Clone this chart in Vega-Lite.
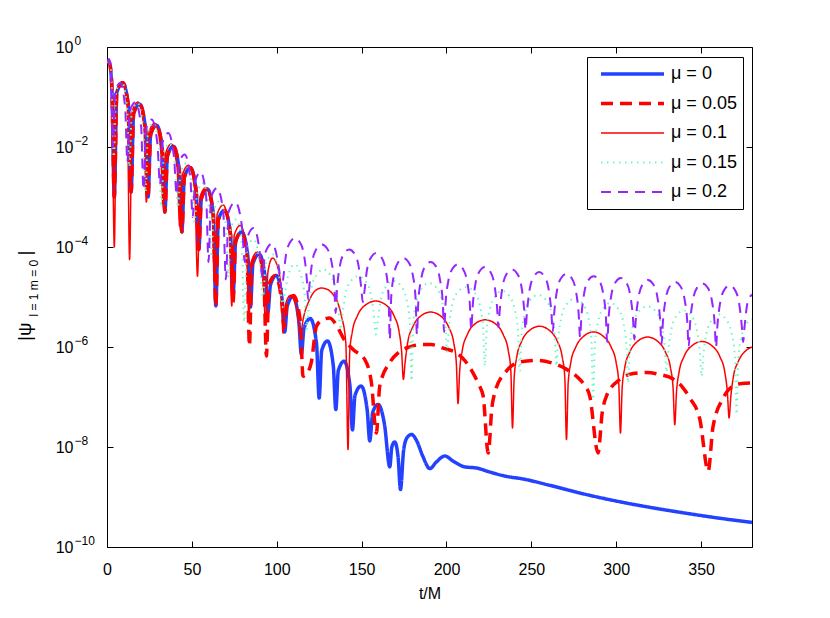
{
  "$schema": "https://vega.github.io/schema/vega-lite/v6.json",
  "width": 645,
  "height": 500,
  "autosize": {"type": "none"},
  "padding": {"left": 107, "top": 47, "right": 78, "bottom": 71},
  "background": "white",
  "data": {"values": [
    {"t":0,"v":0.48,"s":"μ = 0"},{"t":1.3,"v":0.5,"s":"μ = 0"},{"t":2.8,"v":0.178,"s":"μ = 0"},{"t":4.3,"v":1e-3,"s":"μ = 0"},
    {"t":5.8,"v":0.124,"s":"μ = 0"},{"t":9.25,"v":0.192,"s":"μ = 0"},{"t":12.7,"v":0.062,"s":"μ = 0"},{"t":14.2,"v":1.26e-3,"s":"μ = 0"},
    {"t":15.7,"v":0.047,"s":"μ = 0"},{"t":19.2,"v":0.072,"s":"μ = 0"},{"t":22.7,"v":0.023,"s":"μ = 0"},{"t":24.2,"v":1e-3,"s":"μ = 0"},
    {"t":25.7,"v":0.0176,"s":"μ = 0"},{"t":29.15,"v":0.0273,"s":"μ = 0"},{"t":32.6,"v":8.8e-3,"s":"μ = 0"},{"t":34.1,"v":5e-4,"s":"μ = 0"},
    {"t":35.6,"v":6.6e-3,"s":"μ = 0"},{"t":39.1,"v":0.0103,"s":"μ = 0"},{"t":42.6,"v":3.3e-3,"s":"μ = 0"},{"t":44.1,"v":2e-4,"s":"μ = 0"},
    {"t":45.6,"v":2.5e-3,"s":"μ = 0"},{"t":49.1,"v":3.86e-3,"s":"μ = 0"},{"t":52.6,"v":1.25e-3,"s":"μ = 0"},{"t":54.1,"v":8.9e-5,"s":"μ = 0"},
    {"t":55.6,"v":9.3e-4,"s":"μ = 0"},{"t":59.1,"v":1.45e-3,"s":"μ = 0"},{"t":62.6,"v":4.7e-4,"s":"μ = 0"},{"t":64.1,"v":6.6e-6,"s":"μ = 0"},
    {"t":65.6,"v":3.5e-4,"s":"μ = 0"},{"t":69.2,"v":5.4e-4,"s":"μ = 0"},{"t":72.8,"v":1.74e-4,"s":"μ = 0"},{"t":74.3,"v":1.12e-5,"s":"μ = 0"},
    {"t":75.8,"v":1.29e-4,"s":"μ = 0"},{"t":79.4,"v":2e-4,"s":"μ = 0"},{"t":83,"v":6.5e-5,"s":"μ = 0"},{"t":84.5,"v":6.3e-6,"s":"μ = 0"},
    {"t":86,"v":4.7e-5,"s":"μ = 0"},{"t":89.65,"v":7.2e-5,"s":"μ = 0"},{"t":93.3,"v":2.3e-5,"s":"μ = 0"},{"t":94.8,"v":5e-6,"s":"μ = 0"},
    {"t":96.3,"v":1.74e-5,"s":"μ = 0"},{"t":99.75,"v":2.7e-5,"s":"μ = 0"},{"t":103.2,"v":8.7e-6,"s":"μ = 0"},{"t":104.7,"v":2e-6,"s":"μ = 0"},
    {"t":106.2,"v":6.6e-6,"s":"μ = 0"},{"t":109.6,"v":1.02e-5,"s":"μ = 0"},{"t":113,"v":3.3e-6,"s":"μ = 0"},{"t":114.5,"v":7.1e-7,"s":"μ = 0"},
    {"t":116.1,"v":2.4e-6,"s":"μ = 0"},{"t":119.75,"v":3.7e-6,"s":"μ = 0"},{"t":123.4,"v":1.2e-6,"s":"μ = 0"},{"t":125,"v":9.5e-8,"s":"μ = 0"},
    {"t":126.5,"v":8.5e-7,"s":"μ = 0"},{"t":129.9,"v":1.32e-6,"s":"μ = 0"},{"t":133.3,"v":4.3e-7,"s":"μ = 0"},{"t":134.8,"v":5.6e-8,"s":"μ = 0"},
    {"t":136.3,"v":3.4e-7,"s":"μ = 0"},{"t":139.7,"v":5.2e-7,"s":"μ = 0"},{"t":143.1,"v":1.7e-7,"s":"μ = 0"},{"t":144.6,"v":2.2e-8,"s":"μ = 0"},
    {"t":146.1,"v":1.07e-7,"s":"μ = 0"},{"t":149.7,"v":1.66e-7,"s":"μ = 0"},{"t":153.3,"v":5.4e-8,"s":"μ = 0"},{"t":154.8,"v":1.32e-8,"s":"μ = 0"},
    {"t":156.6,"v":5e-8,"s":"μ = 0"},{"t":159.7,"v":7.1e-8,"s":"μ = 0"},{"t":163.5,"v":2.8e-8,"s":"μ = 0"},{"t":166.6,"v":4e-9,"s":"μ = 0"},
    {"t":167.8,"v":1e-8,"s":"μ = 0"},{"t":169.5,"v":1.26e-8,"s":"μ = 0"},{"t":171.5,"v":6.3e-9,"s":"μ = 0"},{"t":172.9,"v":1.41e-9,"s":"μ = 0"},
    {"t":174.8,"v":8.9e-9,"s":"μ = 0"},{"t":177,"v":1.58e-8,"s":"μ = 0"},{"t":179.4,"v":1.78e-8,"s":"μ = 0"},{"t":182.5,"v":1.32e-8,"s":"μ = 0"},
    {"t":186,"v":6.6e-9,"s":"μ = 0"},{"t":190.2,"v":3.7e-9,"s":"μ = 0"},{"t":194,"v":5e-9,"s":"μ = 0"},{"t":199,"v":6.6e-9,"s":"μ = 0"},
    {"t":204,"v":5.2e-9,"s":"μ = 0"},{"t":210.8,"v":4e-9,"s":"μ = 0"},{"t":217.7,"v":3.8e-9,"s":"μ = 0"},{"t":225.5,"v":3.16e-9,"s":"μ = 0"},
    {"t":235,"v":2.6e-9,"s":"μ = 0"},{"t":245,"v":2.3e-9,"s":"μ = 0"},{"t":260,"v":1.74e-9,"s":"μ = 0"},{"t":280,"v":1.17e-9,"s":"μ = 0"},
    {"t":300,"v":8.3e-10,"s":"μ = 0"},{"t":320,"v":6.2e-10,"s":"μ = 0"},{"t":340,"v":4.8e-10,"s":"μ = 0"},{"t":360,"v":3.8e-10,"s":"μ = 0"},{"t":380,"v":3.1e-10,"s":"μ = 0"},

    {"t":0,"v":0.48,"s":"μ = 0.05"},{"t":1.3,"v":0.5,"s":"μ = 0.05"},{"t":2.8,"v":0.178,"s":"μ = 0.05"},{"t":4.3,"v":1e-3,"s":"μ = 0.05"},
    {"t":5.8,"v":0.124,"s":"μ = 0.05"},{"t":9.25,"v":0.192,"s":"μ = 0.05"},{"t":12.7,"v":0.062,"s":"μ = 0.05"},{"t":14.2,"v":1.26e-3,"s":"μ = 0.05"},
    {"t":15.7,"v":0.047,"s":"μ = 0.05"},{"t":19.2,"v":0.072,"s":"μ = 0.05"},{"t":22.7,"v":0.023,"s":"μ = 0.05"},{"t":24.2,"v":1e-3,"s":"μ = 0.05"},
    {"t":25.7,"v":0.0176,"s":"μ = 0.05"},{"t":29.15,"v":0.0273,"s":"μ = 0.05"},{"t":32.6,"v":8.8e-3,"s":"μ = 0.05"},{"t":34.1,"v":5e-4,"s":"μ = 0.05"},
    {"t":35.6,"v":6.6e-3,"s":"μ = 0.05"},{"t":39.1,"v":0.0103,"s":"μ = 0.05"},{"t":42.6,"v":3.3e-3,"s":"μ = 0.05"},{"t":44.1,"v":2e-4,"s":"μ = 0.05"},
    {"t":45.6,"v":2.5e-3,"s":"μ = 0.05"},{"t":49.1,"v":3.86e-3,"s":"μ = 0.05"},{"t":52.6,"v":1.25e-3,"s":"μ = 0.05"},{"t":54.1,"v":8.9e-5,"s":"μ = 0.05"},
    {"t":55.6,"v":9.3e-4,"s":"μ = 0.05"},{"t":59.1,"v":1.45e-3,"s":"μ = 0.05"},{"t":62.6,"v":4.7e-4,"s":"μ = 0.05"},{"t":64.1,"v":6.6e-6,"s":"μ = 0.05"},
    {"t":65.6,"v":3.5e-4,"s":"μ = 0.05"},{"t":69.2,"v":5.4e-4,"s":"μ = 0.05"},{"t":72.8,"v":1.74e-4,"s":"μ = 0.05"},{"t":74.3,"v":7.9e-6,"s":"μ = 0.05"},
    {"t":75.8,"v":1.29e-4,"s":"μ = 0.05"},{"t":79.2,"v":2e-4,"s":"μ = 0.05"},{"t":82.5,"v":6.5e-5,"s":"μ = 0.05"},{"t":83.9,"v":1.05e-6,"s":"μ = 0.05"},
    {"t":85.4,"v":4.7e-5,"s":"μ = 0.05"},{"t":88.9,"v":7.2e-5,"s":"μ = 0.05"},{"t":92.4,"v":2.3e-5,"s":"μ = 0.05"},{"t":93.9,"v":6.6e-7,"s":"μ = 0.05"},
    {"t":95.4,"v":1.74e-5,"s":"μ = 0.05"},{"t":99.1,"v":2.7e-5,"s":"μ = 0.05"},{"t":102.8,"v":8.7e-6,"s":"μ = 0.05"},{"t":104.3,"v":2.5e-6,"s":"μ = 0.05"},
    {"t":106,"v":7.1e-6,"s":"μ = 0.05"},{"t":109.9,"v":1.07e-5,"s":"μ = 0.05"},{"t":113.8,"v":3.5e-6,"s":"μ = 0.05"},{"t":115.5,"v":2.6e-7,"s":"μ = 0.05"},
    {"t":118.5,"v":3.2e-7,"s":"μ = 0.05"},{"t":120.4,"v":5e-7,"s":"μ = 0.05"},{"t":123.4,"v":2.6e-6,"s":"μ = 0.05"},{"t":127,"v":3.5e-6,"s":"μ = 0.05"},
    {"t":131.2,"v":3.8e-6,"s":"μ = 0.05"},{"t":135,"v":2.8e-6,"s":"μ = 0.05"},{"t":139.5,"v":1.45e-6,"s":"μ = 0.05"},{"t":145,"v":8.9e-7,"s":"μ = 0.05"},
    {"t":151.9,"v":5.6e-7,"s":"μ = 0.05"},{"t":155.8,"v":1.9e-7,"s":"μ = 0.05"},{"t":158.7,"v":1.9e-8,"s":"μ = 0.05"},
    {"t":160.7,"v":1.66e-7,"s":"μ = 0.05"},{"t":166.6,"v":4.9e-7,"s":"μ = 0.05"},{"t":172,"v":7.9e-7,"s":"μ = 0.05"},{"t":179,"v":1.02e-6,"s":"μ = 0.05"},
    {"t":185,"v":1.12e-6,"s":"μ = 0.05"},{"t":191,"v":1.12e-6,"s":"μ = 0.05"},{"t":198,"v":9.5e-7,"s":"μ = 0.05"},{"t":206.4,"v":7.4e-7,"s":"μ = 0.05"},
    {"t":211.5,"v":5e-7,"s":"μ = 0.05"},{"t":215.7,"v":3e-7,"s":"μ = 0.05"},{"t":219,"v":1.78e-7,"s":"μ = 0.05"},{"t":221.6,"v":1.05e-7,"s":"μ = 0.05"},{"t":224.6,"v":7.6e-9,"s":"μ = 0.05"},
    {"t":226.8,"v":6.3e-8,"s":"μ = 0.05"},{"t":228.5,"v":1.23e-7,"s":"μ = 0.05"},{"t":235.3,"v":3.3e-7,"s":"μ = 0.05"},{"t":243.2,"v":5e-7,"s":"μ = 0.05"},
    {"t":253,"v":5.4e-7,"s":"μ = 0.05"},{"t":262.8,"v":4.7e-7,"s":"μ = 0.05"},{"t":270,"v":3.7e-7,"s":"μ = 0.05"},{"t":276.6,"v":2.6e-7,"s":"μ = 0.05"},
    {"t":281,"v":1.78e-7,"s":"μ = 0.05"},{"t":284.4,"v":1.05e-7,"s":"μ = 0.05"},{"t":289.3,"v":7.6e-9,"s":"μ = 0.05"},
    {"t":291.8,"v":5e-8,"s":"μ = 0.05"},{"t":294.3,"v":1.05e-7,"s":"μ = 0.05"},{"t":302.1,"v":2.24e-7,"s":"μ = 0.05"},{"t":310,"v":2.95e-7,"s":"μ = 0.05"},
    {"t":317.8,"v":3.1e-7,"s":"μ = 0.05"},{"t":326,"v":2.8e-7,"s":"μ = 0.05"},{"t":333.5,"v":2.3e-7,"s":"μ = 0.05"},{"t":339,"v":1.58e-7,"s":"μ = 0.05"},
    {"t":343.4,"v":9.5e-8,"s":"μ = 0.05"},{"t":349.3,"v":3.55e-8,"s":"μ = 0.05"},{"t":354.2,"v":3.3e-9,"s":"μ = 0.05"},
    {"t":357,"v":2.5e-8,"s":"μ = 0.05"},{"t":363,"v":9.5e-8,"s":"μ = 0.05"},{"t":368.9,"v":1.66e-7,"s":"μ = 0.05"},{"t":374,"v":1.86e-7,"s":"μ = 0.05"},{"t":380,"v":1.9e-7,"s":"μ = 0.05"},

    {"t":0,"v":0.48,"s":"μ = 0.1"},{"t":1.3,"v":0.5,"s":"μ = 0.1"},{"t":2.8,"v":0.178,"s":"μ = 0.1"},{"t":4.3,"v":1e-4,"s":"μ = 0.1"},
    {"t":5.65,"v":0.13,"s":"μ = 0.1"},{"t":8.8,"v":0.201,"s":"μ = 0.1"},{"t":11.95,"v":0.065,"s":"μ = 0.1"},{"t":13.3,"v":5.6e-5,"s":"μ = 0.1"},
    {"t":14.8,"v":0.051,"s":"μ = 0.1"},{"t":18.25,"v":0.079,"s":"μ = 0.1"},{"t":21.7,"v":0.0257,"s":"μ = 0.1"},{"t":23.2,"v":7.9e-4,"s":"μ = 0.1"},
    {"t":24.7,"v":0.0195,"s":"μ = 0.1"},{"t":28.1,"v":0.03,"s":"μ = 0.1"},{"t":31.5,"v":9.8e-3,"s":"μ = 0.1"},{"t":33,"v":6.6e-4,"s":"μ = 0.1"},
    {"t":34.5,"v":7.4e-3,"s":"μ = 0.1"},{"t":37.9,"v":0.0115,"s":"μ = 0.1"},{"t":41.3,"v":3.7e-3,"s":"μ = 0.1"},{"t":42.8,"v":2.6e-4,"s":"μ = 0.1"},
    {"t":44.4,"v":2.75e-3,"s":"μ = 0.1"},{"t":48.05,"v":4.3e-3,"s":"μ = 0.1"},{"t":51.7,"v":1.38e-3,"s":"μ = 0.1"},{"t":53.3,"v":2.6e-5,"s":"μ = 0.1"},
    {"t":54.8,"v":1e-3,"s":"μ = 0.1"},{"t":58.35,"v":1.55e-3,"s":"μ = 0.1"},{"t":61.9,"v":5e-4,"s":"μ = 0.1"},{"t":63.4,"v":2e-5,"s":"μ = 0.1"},
    {"t":64.9,"v":4.5e-4,"s":"μ = 0.1"},{"t":68.45,"v":6.9e-4,"s":"μ = 0.1"},{"t":72,"v":2.24e-4,"s":"μ = 0.1"},{"t":73.5,"v":6.6e-6,"s":"μ = 0.1"},
    {"t":75,"v":1.74e-4,"s":"μ = 0.1"},{"t":78.55,"v":2.7e-4,"s":"μ = 0.1"},{"t":82.1,"v":8.7e-5,"s":"μ = 0.1"},{"t":83.6,"v":4e-6,"s":"μ = 0.1"},
    {"t":85.1,"v":5.1e-5,"s":"μ = 0.1"},{"t":88.5,"v":7.9e-5,"s":"μ = 0.1"},{"t":91.9,"v":2.57e-5,"s":"μ = 0.1"},{"t":93.4,"v":3.16e-6,"s":"μ = 0.1"},
    {"t":94.8,"v":3.16e-5,"s":"μ = 0.1"},{"t":97.5,"v":6e-5,"s":"μ = 0.1"},{"t":100.5,"v":4e-5,"s":"μ = 0.1"},{"t":102.6,"v":1.41e-5,"s":"μ = 0.1"},{"t":103.7,"v":1.9e-6,"s":"μ = 0.1"},
    {"t":105.2,"v":7.1e-6,"s":"μ = 0.1"},{"t":108,"v":1.07e-5,"s":"μ = 0.1"},{"t":111.5,"v":6.3e-6,"s":"μ = 0.1"},{"t":114,"v":1.78e-6,"s":"μ = 0.1"},
    {"t":115.5,"v":3.5e-6,"s":"μ = 0.1"},{"t":119.4,"v":8.9e-6,"s":"μ = 0.1"},{"t":122.5,"v":1.32e-5,"s":"μ = 0.1"},{"t":126.3,"v":1.51e-5,"s":"μ = 0.1"},
    {"t":130,"v":1.41e-5,"s":"μ = 0.1"},{"t":133.2,"v":1.12e-5,"s":"μ = 0.1"},{"t":136,"v":7.6e-6,"s":"μ = 0.1"},{"t":138.1,"v":4.2e-6,"s":"μ = 0.1"},
    {"t":140.7,"v":1.2e-6,"s":"μ = 0.1"},{"t":142,"v":8.9e-9,"s":"μ = 0.1"},
    {"t":143,"v":7.9e-7,"s":"μ = 0.1"},{"t":144.5,"v":2e-6,"s":"μ = 0.1"},{"t":147.5,"v":4.2e-6,"s":"μ = 0.1"},{"t":152,"v":6.8e-6,"s":"μ = 0.1"},
    {"t":158.3,"v":8.3e-6,"s":"μ = 0.1"},{"t":164.6,"v":6.8e-6,"s":"μ = 0.1"},{"t":169.1,"v":4.2e-6,"s":"μ = 0.1"},{"t":172.1,"v":2e-6,"s":"μ = 0.1"},
    {"t":173.6,"v":7.9e-7,"s":"μ = 0.1"},{"t":174.6,"v":2.24e-7,"s":"μ = 0.1"},
    {"t":175.6,"v":4.8e-7,"s":"μ = 0.1"},{"t":177.1,"v":1.2e-6,"s":"μ = 0.1"},{"t":180.1,"v":2.5e-6,"s":"μ = 0.1"},{"t":184.6,"v":4.1e-6,"s":"μ = 0.1"},
    {"t":190.7,"v":5e-6,"s":"μ = 0.1"},{"t":196.8,"v":4.1e-6,"s":"μ = 0.1"},{"t":201.3,"v":2.5e-6,"s":"μ = 0.1"},{"t":204.3,"v":1.2e-6,"s":"μ = 0.1"},
    {"t":205.8,"v":4.8e-7,"s":"μ = 0.1"},{"t":206.8,"v":7.4e-8,"s":"μ = 0.1"},
    {"t":207.8,"v":3.4e-7,"s":"μ = 0.1"},{"t":209.3,"v":8.5e-7,"s":"μ = 0.1"},{"t":212.3,"v":1.78e-6,"s":"μ = 0.1"},{"t":216.8,"v":2.9e-6,"s":"μ = 0.1"},
    {"t":222.85,"v":3.5e-6,"s":"μ = 0.1"},{"t":228.9,"v":2.9e-6,"s":"μ = 0.1"},{"t":233.4,"v":1.78e-6,"s":"μ = 0.1"},{"t":236.4,"v":8.5e-7,"s":"μ = 0.1"},
    {"t":237.9,"v":3.4e-7,"s":"μ = 0.1"},{"t":238.9,"v":2.4e-8,"s":"μ = 0.1"},
    {"t":239.9,"v":2.5e-7,"s":"μ = 0.1"},{"t":241.4,"v":6.3e-7,"s":"μ = 0.1"},{"t":244.4,"v":1.32e-6,"s":"μ = 0.1"},{"t":248.9,"v":2.14e-6,"s":"μ = 0.1"},
    {"t":254.8,"v":2.6e-6,"s":"μ = 0.1"},{"t":260.7,"v":2.14e-6,"s":"μ = 0.1"},{"t":265.2,"v":1.32e-6,"s":"μ = 0.1"},{"t":268.2,"v":6.3e-7,"s":"μ = 0.1"},
    {"t":269.7,"v":2.5e-7,"s":"μ = 0.1"},{"t":270.7,"v":1.41e-8,"s":"μ = 0.1"},
    {"t":271.7,"v":1.9e-7,"s":"μ = 0.1"},{"t":273.2,"v":4.8e-7,"s":"μ = 0.1"},{"t":276.2,"v":1e-6,"s":"μ = 0.1"},{"t":280.7,"v":1.62e-6,"s":"μ = 0.1"},
    {"t":286.6,"v":2e-6,"s":"μ = 0.1"},{"t":292.5,"v":1.62e-6,"s":"μ = 0.1"},{"t":297,"v":1e-6,"s":"μ = 0.1"},{"t":300,"v":4.8e-7,"s":"μ = 0.1"},
    {"t":301.5,"v":1.9e-7,"s":"μ = 0.1"},{"t":302.5,"v":1.9e-8,"s":"μ = 0.1"},
    {"t":303.5,"v":1.51e-7,"s":"μ = 0.1"},{"t":305,"v":3.8e-7,"s":"μ = 0.1"},{"t":308,"v":7.9e-7,"s":"μ = 0.1"},{"t":312.5,"v":1.29e-6,"s":"μ = 0.1"},
    {"t":318.5,"v":1.58e-6,"s":"μ = 0.1"},{"t":324.5,"v":1.29e-6,"s":"μ = 0.1"},{"t":329,"v":7.9e-7,"s":"μ = 0.1"},{"t":332,"v":3.8e-7,"s":"μ = 0.1"},
    {"t":333.5,"v":1.51e-7,"s":"μ = 0.1"},{"t":334.5,"v":2.8e-8,"s":"μ = 0.1"},
    {"t":335.5,"v":1.23e-7,"s":"μ = 0.1"},{"t":337,"v":3.1e-7,"s":"μ = 0.1"},{"t":340,"v":6.5e-7,"s":"μ = 0.1"},{"t":344.5,"v":1.05e-6,"s":"μ = 0.1"},
    {"t":350.5,"v":1.29e-6,"s":"μ = 0.1"},{"t":356.5,"v":1.05e-6,"s":"μ = 0.1"},{"t":361,"v":6.5e-7,"s":"μ = 0.1"},{"t":364,"v":3.1e-7,"s":"μ = 0.1"},
    {"t":365.5,"v":1.23e-7,"s":"μ = 0.1"},{"t":366.5,"v":3.8e-8,"s":"μ = 0.1"},
    {"t":367.5,"v":1e-7,"s":"μ = 0.1"},{"t":369,"v":2.5e-7,"s":"μ = 0.1"},{"t":372,"v":5.2e-7,"s":"μ = 0.1"},{"t":376.5,"v":8.5e-7,"s":"μ = 0.1"},{"t":380,"v":1e-6,"s":"μ = 0.1"},

    {"t":0,"v":0.49,"s":"μ = 0.15"},{"t":1.2,"v":0.537,"s":"μ = 0.15"},{"t":2.6,"v":0.251,"s":"μ = 0.15"},{"t":4,"v":6.3e-3,"s":"μ = 0.15"},
    {"t":5.4,"v":0.129,"s":"μ = 0.15"},{"t":8.6,"v":0.2,"s":"μ = 0.15"},{"t":11.8,"v":0.0646,"s":"μ = 0.15"},{"t":13.2,"v":4e-3,"s":"μ = 0.15"},
    {"t":14.6,"v":0.049,"s":"μ = 0.15"},{"t":17.95,"v":0.076,"s":"μ = 0.15"},{"t":21.3,"v":0.0245,"s":"μ = 0.15"},{"t":22.7,"v":1.26e-3,"s":"μ = 0.15"},
    {"t":24.1,"v":0.0195,"s":"μ = 0.15"},{"t":27.35,"v":0.03,"s":"μ = 0.15"},{"t":30.6,"v":9.8e-3,"s":"μ = 0.15"},{"t":32,"v":6.3e-4,"s":"μ = 0.15"},
    {"t":33.5,"v":7.8e-3,"s":"μ = 0.15"},{"t":36.9,"v":0.012,"s":"μ = 0.15"},{"t":40.3,"v":3.9e-3,"s":"μ = 0.15"},{"t":41.8,"v":6.3e-4,"s":"μ = 0.15"},
    {"t":43.3,"v":3e-3,"s":"μ = 0.15"},{"t":46.7,"v":4.7e-3,"s":"μ = 0.15"},{"t":50.1,"v":1.51e-3,"s":"μ = 0.15"},{"t":51.6,"v":3.16e-4,"s":"μ = 0.15"},
    {"t":53.1,"v":1.23e-3,"s":"μ = 0.15"},{"t":56.55,"v":1.9e-3,"s":"μ = 0.15"},{"t":60,"v":6.2e-4,"s":"μ = 0.15"},{"t":61.5,"v":6.3e-5,"s":"μ = 0.15"},
    {"t":63,"v":5.4e-4,"s":"μ = 0.15"},{"t":66.5,"v":8.3e-4,"s":"μ = 0.15"},{"t":70,"v":2.7e-4,"s":"μ = 0.15"},{"t":71.5,"v":2.5e-5,"s":"μ = 0.15"},
    {"t":72.9,"v":2.3e-4,"s":"μ = 0.15"},{"t":76.15,"v":3.55e-4,"s":"μ = 0.15"},{"t":79.4,"v":1.15e-4,"s":"μ = 0.15"},{"t":80.8,"v":3.16e-6,"s":"μ = 0.15"},
    {"t":82.5,"v":9.1e-5,"s":"μ = 0.15"},{"t":86.3,"v":1.41e-4,"s":"μ = 0.15"},{"t":90.1,"v":4.6e-5,"s":"μ = 0.15"},{"t":91.8,"v":1e-5,"s":"μ = 0.15"},
    {"t":93.6,"v":4.6e-5,"s":"μ = 0.15"},{"t":97.65,"v":7.1e-5,"s":"μ = 0.15"},{"t":101.7,"v":2.3e-5,"s":"μ = 0.15"},{"t":103.5,"v":6.3e-6,"s":"μ = 0.15"},
    {"t":104.5,"v":1e-5,"s":"μ = 0.15"},{"t":106.5,"v":2.5e-5,"s":"μ = 0.15"},{"t":110.5,"v":4.5e-5,"s":"μ = 0.15"},{"t":114.5,"v":2.5e-5,"s":"μ = 0.15"},
    {"t":116.5,"v":1e-5,"s":"μ = 0.15"},{"t":117.5,"v":2.24e-6,"s":"μ = 0.15"},
    {"t":118.5,"v":5.2e-6,"s":"μ = 0.15"},{"t":120.5,"v":1.55e-5,"s":"μ = 0.15"},{"t":123.5,"v":2.75e-5,"s":"μ = 0.15"},{"t":127.5,"v":3.55e-5,"s":"μ = 0.15"},
    {"t":131.5,"v":2.75e-5,"s":"μ = 0.15"},{"t":134.5,"v":1.55e-5,"s":"μ = 0.15"},{"t":136.5,"v":5.2e-6,"s":"μ = 0.15"},{"t":137.5,"v":2.24e-6,"s":"μ = 0.15"},
    {"t":138.5,"v":3.9e-6,"s":"μ = 0.15"},{"t":140.5,"v":1.15e-5,"s":"μ = 0.15"},{"t":143.5,"v":2.04e-5,"s":"μ = 0.15"},{"t":147.95,"v":2.6e-5,"s":"μ = 0.15"},
    {"t":152.4,"v":2.04e-5,"s":"μ = 0.15"},{"t":155.4,"v":1.15e-5,"s":"μ = 0.15"},{"t":157.4,"v":3.9e-6,"s":"μ = 0.15"},{"t":158.4,"v":1.78e-6,"s":"μ = 0.15"},
    {"t":159.4,"v":3.1e-6,"s":"μ = 0.15"},{"t":161.4,"v":9.1e-6,"s":"μ = 0.15"},{"t":164.4,"v":1.62e-5,"s":"μ = 0.15"},{"t":168.9,"v":2.1e-5,"s":"μ = 0.15"},
    {"t":173.4,"v":1.62e-5,"s":"μ = 0.15"},{"t":176.4,"v":9.1e-6,"s":"μ = 0.15"},{"t":178.4,"v":3.1e-6,"s":"μ = 0.15"},{"t":179.4,"v":2.1e-7,"s":"μ = 0.15"},
    {"t":180.4,"v":2.8e-6,"s":"μ = 0.15"},{"t":182.4,"v":8.3e-6,"s":"μ = 0.15"},{"t":185.4,"v":1.48e-5,"s":"μ = 0.15"},{"t":189.9,"v":1.9e-5,"s":"μ = 0.15"},
    {"t":194.4,"v":1.48e-5,"s":"μ = 0.15"},{"t":197.4,"v":8.3e-6,"s":"μ = 0.15"},{"t":199.4,"v":2.8e-6,"s":"μ = 0.15"},{"t":200.4,"v":7.9e-7,"s":"μ = 0.15"},
    {"t":201.4,"v":2.34e-6,"s":"μ = 0.15"},{"t":203.4,"v":6.9e-6,"s":"μ = 0.15"},{"t":206.4,"v":1.23e-5,"s":"μ = 0.15"},{"t":211.5,"v":1.58e-5,"s":"μ = 0.15"},
    {"t":216.6,"v":1.23e-5,"s":"μ = 0.15"},{"t":219.6,"v":6.9e-6,"s":"μ = 0.15"},{"t":221.6,"v":2.34e-6,"s":"μ = 0.15"},{"t":222.6,"v":4.2e-7,"s":"μ = 0.15"},
    {"t":223.6,"v":1.95e-6,"s":"μ = 0.15"},{"t":225.6,"v":5.75e-6,"s":"μ = 0.15"},{"t":228.6,"v":1.02e-5,"s":"μ = 0.15"},{"t":232.9,"v":1.32e-5,"s":"μ = 0.15"},
    {"t":237.2,"v":1.02e-5,"s":"μ = 0.15"},{"t":240.2,"v":5.75e-6,"s":"μ = 0.15"},{"t":242.2,"v":1.95e-6,"s":"μ = 0.15"},{"t":243.2,"v":3.3e-7,"s":"μ = 0.15"},
    {"t":244.2,"v":1.62e-6,"s":"μ = 0.15"},{"t":246.2,"v":4.8e-6,"s":"μ = 0.15"},{"t":249.2,"v":8.5e-6,"s":"μ = 0.15"},{"t":254,"v":1.1e-5,"s":"μ = 0.15"},
    {"t":258.8,"v":8.5e-6,"s":"μ = 0.15"},{"t":261.8,"v":4.8e-6,"s":"μ = 0.15"},{"t":263.8,"v":1.62e-6,"s":"μ = 0.15"},{"t":264.8,"v":4.2e-7,"s":"μ = 0.15"},
    {"t":265.8,"v":1.38e-6,"s":"μ = 0.15"},{"t":267.8,"v":4.1e-6,"s":"μ = 0.15"},{"t":270.8,"v":7.2e-6,"s":"μ = 0.15"},{"t":275.6,"v":9.3e-6,"s":"μ = 0.15"},
    {"t":280.4,"v":7.2e-6,"s":"μ = 0.15"},{"t":283.4,"v":4.1e-6,"s":"μ = 0.15"},{"t":285.4,"v":1.38e-6,"s":"μ = 0.15"},{"t":286.4,"v":8.9e-8,"s":"μ = 0.15"},
    {"t":287.4,"v":1.12e-6,"s":"μ = 0.15"},{"t":289.4,"v":3.3e-6,"s":"μ = 0.15"},{"t":292.4,"v":5.9e-6,"s":"μ = 0.15"},{"t":296.7,"v":7.6e-6,"s":"μ = 0.15"},
    {"t":301,"v":5.9e-6,"s":"μ = 0.15"},{"t":304,"v":3.3e-6,"s":"μ = 0.15"},{"t":306,"v":1.12e-6,"s":"μ = 0.15"},{"t":307,"v":1.9e-7,"s":"μ = 0.15"},
    {"t":308,"v":9.5e-7,"s":"μ = 0.15"},{"t":310,"v":2.8e-6,"s":"μ = 0.15"},{"t":313,"v":5e-6,"s":"μ = 0.15"},{"t":318.3,"v":6.5e-6,"s":"μ = 0.15"},
    {"t":323.6,"v":5e-6,"s":"μ = 0.15"},{"t":326.6,"v":2.8e-6,"s":"μ = 0.15"},{"t":328.6,"v":9.5e-7,"s":"μ = 0.15"},{"t":329.6,"v":3.16e-7,"s":"μ = 0.15"},
    {"t":330.6,"v":7.9e-7,"s":"μ = 0.15"},{"t":332.6,"v":2.34e-6,"s":"μ = 0.15"},{"t":335.6,"v":4.2e-6,"s":"μ = 0.15"},{"t":339.95,"v":5.4e-6,"s":"μ = 0.15"},
    {"t":344.3,"v":4.2e-6,"s":"μ = 0.15"},{"t":347.3,"v":2.34e-6,"s":"μ = 0.15"},{"t":349.3,"v":7.9e-7,"s":"μ = 0.15"},{"t":350.3,"v":2.6e-7,"s":"μ = 0.15"},
    {"t":351.3,"v":6.6e-7,"s":"μ = 0.15"},{"t":353.3,"v":1.95e-6,"s":"μ = 0.15"},{"t":356.3,"v":3.47e-6,"s":"μ = 0.15"},{"t":360.6,"v":4.5e-6,"s":"μ = 0.15"},
    {"t":364.9,"v":3.47e-6,"s":"μ = 0.15"},{"t":367.9,"v":1.95e-6,"s":"μ = 0.15"},{"t":369.9,"v":6.6e-7,"s":"μ = 0.15"},{"t":370.9,"v":4.5e-8,"s":"μ = 0.15"},
    {"t":371.9,"v":5.6e-7,"s":"μ = 0.15"},{"t":373.9,"v":1.66e-6,"s":"μ = 0.15"},{"t":376.9,"v":2.95e-6,"s":"μ = 0.15"},{"t":380,"v":3.55e-6,"s":"μ = 0.15"},

    {"t":0,"v":0.5,"s":"μ = 0.2"},{"t":1.2,"v":0.575,"s":"μ = 0.2"},{"t":2.3,"v":0.355,"s":"μ = 0.2"},{"t":3.5,"v":0.01,"s":"μ = 0.2"},
    {"t":4.8,"v":0.123,"s":"μ = 0.2"},{"t":7.75,"v":0.19,"s":"μ = 0.2"},{"t":10.7,"v":0.062,"s":"μ = 0.2"},{"t":12,"v":5e-3,"s":"μ = 0.2"},
    {"t":13.4,"v":0.051,"s":"μ = 0.2"},{"t":16.75,"v":0.079,"s":"μ = 0.2"},{"t":20.1,"v":0.0257,"s":"μ = 0.2"},{"t":21.5,"v":1.41e-3,"s":"μ = 0.2"},
    {"t":23,"v":0.0229,"s":"μ = 0.2"},{"t":26.35,"v":0.0355,"s":"μ = 0.2"},{"t":29.7,"v":0.0115,"s":"μ = 0.2"},{"t":31.2,"v":1.78e-3,"s":"μ = 0.2"},
    {"t":32.7,"v":0.0123,"s":"μ = 0.2"},{"t":36.1,"v":0.019,"s":"μ = 0.2"},{"t":39.5,"v":6.2e-3,"s":"μ = 0.2"},{"t":41,"v":1.12e-3,"s":"μ = 0.2"},
    {"t":42.4,"v":4.6e-3,"s":"μ = 0.2"},{"t":45.75,"v":7.1e-3,"s":"μ = 0.2"},{"t":49.1,"v":2.3e-3,"s":"μ = 0.2"},{"t":50.5,"v":4e-4,"s":"μ = 0.2"},
    {"t":51.9,"v":2.04e-3,"s":"μ = 0.2"},{"t":55.15,"v":3.16e-3,"s":"μ = 0.2"},{"t":58.4,"v":1.02e-3,"s":"μ = 0.2"},{"t":59.8,"v":5e-5,"s":"μ = 0.2"},
    {"t":61.3,"v":9.8e-4,"s":"μ = 0.2"},{"t":64.9,"v":1.51e-3,"s":"μ = 0.2"},{"t":68.5,"v":4.9e-4,"s":"μ = 0.2"},{"t":70,"v":2.24e-5,"s":"μ = 0.2"},
    {"t":71.7,"v":5.1e-4,"s":"μ = 0.2"},{"t":75.6,"v":7.9e-4,"s":"μ = 0.2"},{"t":79.5,"v":2.57e-4,"s":"μ = 0.2"},{"t":81.2,"v":5e-5,"s":"μ = 0.2"},
    {"t":82.7,"v":1.55e-4,"s":"μ = 0.2"},{"t":86.35,"v":2.4e-4,"s":"μ = 0.2"},{"t":90,"v":7.8e-5,"s":"μ = 0.2"},{"t":91.5,"v":2.5e-5,"s":"μ = 0.2"},
    {"t":93.2,"v":7.6e-5,"s":"μ = 0.2"},{"t":97.25,"v":1.17e-4,"s":"μ = 0.2"},{"t":101.3,"v":3.8e-5,"s":"μ = 0.2"},{"t":103,"v":1.41e-5,"s":"μ = 0.2"},
    {"t":103.8,"v":2.3e-5,"s":"μ = 0.2"},{"t":105.5,"v":7.1e-5,"s":"μ = 0.2"},{"t":108,"v":1.26e-4,"s":"μ = 0.2"},{"t":110.75,"v":1.51e-4,"s":"μ = 0.2"},
    {"t":113.5,"v":1.26e-4,"s":"μ = 0.2"},{"t":116,"v":7.1e-5,"s":"μ = 0.2"},{"t":117.7,"v":2.3e-5,"s":"μ = 0.2"},{"t":118.5,"v":8.9e-6,"s":"μ = 0.2"},
    {"t":119.3,"v":1.74e-5,"s":"μ = 0.2"},{"t":121,"v":5.2e-5,"s":"μ = 0.2"},{"t":123.5,"v":9.3e-5,"s":"μ = 0.2"},{"t":126.6,"v":1.12e-4,"s":"μ = 0.2"},
    {"t":129.7,"v":9.3e-5,"s":"μ = 0.2"},{"t":132.2,"v":5.2e-5,"s":"μ = 0.2"},{"t":133.9,"v":1.74e-5,"s":"μ = 0.2"},{"t":134.7,"v":4.8e-6,"s":"μ = 0.2"},
    {"t":135.5,"v":1.38e-5,"s":"μ = 0.2"},{"t":137.2,"v":4.2e-5,"s":"μ = 0.2"},{"t":139.7,"v":7.4e-5,"s":"μ = 0.2"},{"t":142.7,"v":8.9e-5,"s":"μ = 0.2"},
    {"t":145.7,"v":7.4e-5,"s":"μ = 0.2"},{"t":148.2,"v":4.2e-5,"s":"μ = 0.2"},{"t":149.9,"v":1.38e-5,"s":"μ = 0.2"},{"t":150.7,"v":7.9e-6,"s":"μ = 0.2"},
    {"t":151.5,"v":1.17e-5,"s":"μ = 0.2"},{"t":153.2,"v":3.55e-5,"s":"μ = 0.2"},{"t":155.7,"v":6.3e-5,"s":"μ = 0.2"},{"t":158.65,"v":7.6e-5,"s":"μ = 0.2"},
    {"t":161.6,"v":6.3e-5,"s":"μ = 0.2"},{"t":164.1,"v":3.55e-5,"s":"μ = 0.2"},{"t":165.8,"v":1.17e-5,"s":"μ = 0.2"},{"t":166.6,"v":1.41e-6,"s":"μ = 0.2"},
    {"t":167.4,"v":9.3e-6,"s":"μ = 0.2"},{"t":169.1,"v":2.8e-5,"s":"μ = 0.2"},{"t":171.6,"v":5e-5,"s":"μ = 0.2"},{"t":174.6,"v":6e-5,"s":"μ = 0.2"},
    {"t":177.6,"v":5e-5,"s":"μ = 0.2"},{"t":180.1,"v":2.8e-5,"s":"μ = 0.2"},{"t":181.8,"v":9.3e-6,"s":"μ = 0.2"},{"t":182.6,"v":1.78e-6,"s":"μ = 0.2"},
    {"t":183.4,"v":7.8e-6,"s":"μ = 0.2"},{"t":185.1,"v":2.3e-5,"s":"μ = 0.2"},{"t":187.6,"v":4.2e-5,"s":"μ = 0.2"},{"t":190.6,"v":5e-5,"s":"μ = 0.2"},
    {"t":193.6,"v":4.2e-5,"s":"μ = 0.2"},{"t":196.1,"v":2.3e-5,"s":"μ = 0.2"},{"t":197.8,"v":7.8e-6,"s":"μ = 0.2"},{"t":198.6,"v":2e-6,"s":"μ = 0.2"},
    {"t":199.4,"v":6.9e-6,"s":"μ = 0.2"},{"t":201.1,"v":2.1e-5,"s":"μ = 0.2"},{"t":203.6,"v":3.7e-5,"s":"μ = 0.2"},{"t":206.6,"v":4.5e-5,"s":"μ = 0.2"},
    {"t":209.6,"v":3.7e-5,"s":"μ = 0.2"},{"t":212.1,"v":2.1e-5,"s":"μ = 0.2"},{"t":213.8,"v":6.9e-6,"s":"μ = 0.2"},{"t":214.6,"v":2.24e-6,"s":"μ = 0.2"},
    {"t":215.4,"v":6.2e-6,"s":"μ = 0.2"},{"t":217.1,"v":1.86e-5,"s":"μ = 0.2"},{"t":219.6,"v":3.3e-5,"s":"μ = 0.2"},{"t":222.6,"v":4e-5,"s":"μ = 0.2"},
    {"t":225.6,"v":3.3e-5,"s":"μ = 0.2"},{"t":228.1,"v":1.86e-5,"s":"μ = 0.2"},{"t":229.8,"v":6.2e-6,"s":"μ = 0.2"},{"t":230.6,"v":2.5e-6,"s":"μ = 0.2"},
    {"t":231.4,"v":5.5e-6,"s":"μ = 0.2"},{"t":233.1,"v":1.66e-5,"s":"μ = 0.2"},{"t":235.6,"v":2.95e-5,"s":"μ = 0.2"},{"t":238.6,"v":3.55e-5,"s":"μ = 0.2"},
    {"t":241.6,"v":2.95e-5,"s":"μ = 0.2"},{"t":244.1,"v":1.66e-5,"s":"μ = 0.2"},{"t":245.8,"v":5.5e-6,"s":"μ = 0.2"},{"t":246.6,"v":2.24e-6,"s":"μ = 0.2"},
    {"t":247.4,"v":4.9e-6,"s":"μ = 0.2"},{"t":249.1,"v":1.48e-5,"s":"μ = 0.2"},{"t":251.6,"v":2.6e-5,"s":"μ = 0.2"},{"t":254.6,"v":3.16e-5,"s":"μ = 0.2"},
    {"t":257.6,"v":2.6e-5,"s":"μ = 0.2"},{"t":260.1,"v":1.48e-5,"s":"μ = 0.2"},{"t":261.8,"v":4.9e-6,"s":"μ = 0.2"},{"t":262.6,"v":2e-6,"s":"μ = 0.2"},
    {"t":263.4,"v":4.5e-6,"s":"μ = 0.2"},{"t":265.1,"v":1.35e-5,"s":"μ = 0.2"},{"t":267.6,"v":2.4e-5,"s":"μ = 0.2"},{"t":270.65,"v":2.9e-5,"s":"μ = 0.2"},
    {"t":273.7,"v":2.4e-5,"s":"μ = 0.2"},{"t":276.2,"v":1.35e-5,"s":"μ = 0.2"},{"t":277.9,"v":4.5e-6,"s":"μ = 0.2"},{"t":278.7,"v":1.58e-6,"s":"μ = 0.2"},
    {"t":279.5,"v":4.1e-6,"s":"μ = 0.2"},{"t":281.2,"v":1.23e-5,"s":"μ = 0.2"},{"t":283.7,"v":2.19e-5,"s":"μ = 0.2"},{"t":286.7,"v":2.6e-5,"s":"μ = 0.2"},
    {"t":289.7,"v":2.19e-5,"s":"μ = 0.2"},{"t":292.2,"v":1.23e-5,"s":"μ = 0.2"},{"t":293.9,"v":4.1e-6,"s":"μ = 0.2"},{"t":294.7,"v":1.26e-6,"s":"μ = 0.2"},
    {"t":295.5,"v":3.7e-6,"s":"μ = 0.2"},{"t":297.2,"v":1.12e-5,"s":"μ = 0.2"},{"t":299.7,"v":2e-5,"s":"μ = 0.2"},{"t":302.7,"v":2.4e-5,"s":"μ = 0.2"},
    {"t":305.7,"v":2e-5,"s":"μ = 0.2"},{"t":308.2,"v":1.12e-5,"s":"μ = 0.2"},{"t":309.9,"v":3.7e-6,"s":"μ = 0.2"},{"t":310.7,"v":1.41e-6,"s":"μ = 0.2"},
    {"t":311.5,"v":3.4e-6,"s":"μ = 0.2"},{"t":313.2,"v":1.02e-5,"s":"μ = 0.2"},{"t":315.7,"v":1.82e-5,"s":"μ = 0.2"},{"t":318.7,"v":2.19e-5,"s":"μ = 0.2"},
    {"t":321.7,"v":1.82e-5,"s":"μ = 0.2"},{"t":324.2,"v":1.02e-5,"s":"μ = 0.2"},{"t":325.9,"v":3.4e-6,"s":"μ = 0.2"},{"t":326.7,"v":1.12e-6,"s":"μ = 0.2"},
    {"t":327.5,"v":3.1e-6,"s":"μ = 0.2"},{"t":329.2,"v":9.3e-6,"s":"μ = 0.2"},{"t":331.7,"v":1.66e-5,"s":"μ = 0.2"},{"t":334.7,"v":2e-5,"s":"μ = 0.2"},
    {"t":337.7,"v":1.66e-5,"s":"μ = 0.2"},{"t":340.2,"v":9.3e-6,"s":"μ = 0.2"},{"t":341.9,"v":3.1e-6,"s":"μ = 0.2"},{"t":342.7,"v":1e-6,"s":"μ = 0.2"},
    {"t":343.5,"v":2.9e-6,"s":"μ = 0.2"},{"t":345.2,"v":8.7e-6,"s":"μ = 0.2"},{"t":347.7,"v":1.55e-5,"s":"μ = 0.2"},{"t":350.75,"v":1.86e-5,"s":"μ = 0.2"},
    {"t":353.8,"v":1.55e-5,"s":"μ = 0.2"},{"t":356.3,"v":8.7e-6,"s":"μ = 0.2"},{"t":358,"v":2.9e-6,"s":"μ = 0.2"},{"t":358.8,"v":1e-6,"s":"μ = 0.2"},
    {"t":359.6,"v":2.6e-6,"s":"μ = 0.2"},{"t":361.3,"v":7.9e-6,"s":"μ = 0.2"},{"t":363.8,"v":1.41e-5,"s":"μ = 0.2"},{"t":366.8,"v":1.7e-5,"s":"μ = 0.2"},
    {"t":369.8,"v":1.41e-5,"s":"μ = 0.2"},{"t":372.3,"v":7.9e-6,"s":"μ = 0.2"},{"t":374,"v":2.6e-6,"s":"μ = 0.2"},{"t":374.8,"v":1.26e-6,"s":"μ = 0.2"},
    {"t":375.6,"v":2.5e-6,"s":"μ = 0.2"},{"t":377.3,"v":7.4e-6,"s":"μ = 0.2"},{"t":380,"v":1.12e-5,"s":"μ = 0.2"}
  ]},
  "layer": [
    {
      "mark": {"type": "line", "interpolate": "monotone", "clip": true},
      "encoding": {
        "x": {"field": "t", "type": "quantitative",
              "scale": {"domain": [0, 380], "nice": false, "zero": false},
              "axis": {"orient": "bottom", "values": [0, 50, 100, 150, 200, 250, 300, 350], "title": "t/M",
                       "labelPadding": 20, "titleY": 51, "titleBaseline": "alphabetic"}},
        "y": {"field": "v", "type": "quantitative",
              "scale": {"type": "log", "domain": [1e-10, 1], "nice": false},
              "axis": {"orient": "left", "values": [1, 0.01, 0.0001, 0.000001, 1e-8, 1e-10],
                       "labelExpr": "'10'", "labelAlign": "right", "labelPadding": 40,
                       "title": "|ψ", "titleFontSize": 19, "titleAngle": 270, "titleAlign": "left",
                       "titleBaseline": "alphabetic", "titleX": -76.7, "titleY": 293.5}},
        "color": {"field": "s", "type": "nominal", "title": null,
                  "scale": {"domain": ["μ = 0", "μ = 0.05", "μ = 0.1", "μ = 0.15", "μ = 0.2"],
                            "range": ["#2342ff", "#ff0000", "#ff0000", "#6cf7c4", "#9426ff"]}},
        "strokeDash": {"field": "s", "type": "nominal", "title": null,
                       "scale": {"domain": ["μ = 0", "μ = 0.05", "μ = 0.1", "μ = 0.15", "μ = 0.2"],
                                 "range": [[1, 0], [12, 7], [1, 0], [1.5, 4.5], [10, 7]]}},
        "strokeWidth": {"field": "s", "type": "nominal", "title": null,
                        "scale": {"type": "ordinal", "domain": ["μ = 0", "μ = 0.05", "μ = 0.1", "μ = 0.15", "μ = 0.2"],
                                  "range": [3.5, 3.5, 1.5, 2, 2]}}
      }
    },
    {
      "mark": {"type": "point", "opacity": 0},
      "encoding": {
        "x": {"field": "t", "type": "quantitative", "scale": {"domain": [0, 380], "nice": false, "zero": false},
              "axis": {"orient": "top", "values": [0, 50, 100, 150, 200, 250, 300, 350], "labels": false, "title": null}},
        "y": {"field": "v", "type": "quantitative", "scale": {"type": "log", "domain": [1e-10, 1], "nice": false},
              "axis": {"orient": "left", "values": [1, 0.01, 0.0001, 0.000001, 1e-8, 1e-10], "ticks": false,
                       "labelExpr": "datum.value >= 1 ? '0' : '−' + round(-log(datum.value) / LN10)",
                       "labelFontSize": 12, "labelAlign": "left", "labelPadding": 33, "labelOffset": -7,
                       "title": "l = 1 m = 0", "titleFontSize": 12, "titleAngle": 270, "titleAlign": "left",
                       "titleBaseline": "alphabetic", "titleX": -69.6, "titleY": 269}}
      }
    },
    {
      "mark": {"type": "point", "opacity": 0},
      "encoding": {
        "x": {"field": "t", "type": "quantitative", "scale": {"domain": [0, 380], "nice": false, "zero": false}, "axis": null},
        "y": {"field": "v", "type": "quantitative", "scale": {"type": "log", "domain": [1e-10, 1], "nice": false},
              "axis": {"orient": "right", "values": [1, 0.01, 0.0001, 0.000001, 1e-8, 1e-10], "labels": false, "title": null}}
      }
    },
    {
      "mark": {"type": "point", "opacity": 0},
      "encoding": {
        "x": {"field": "t", "type": "quantitative", "scale": {"domain": [0, 380], "nice": false, "zero": false}, "axis": null},
        "y": {"field": "v", "type": "quantitative", "scale": {"type": "log", "domain": [1e-10, 1], "nice": false},
              "axis": {"orient": "left", "values": [1], "labels": false, "ticks": false,
                       "title": "|", "titleFontSize": 19, "titleAngle": 270, "titleAlign": "left",
                       "titleBaseline": "alphabetic", "titleX": -76.7, "titleY": 208}}
      }
    }
  ],
  "resolve": {"axis": {"x": "independent", "y": "independent"}},
  "config": {
    "font": "Liberation Sans",
    "view": {"stroke": "#000", "strokeWidth": 1},
    "axis": {"grid": false, "domain": false, "tickColor": "#000", "tickSize": -6, "labelColor": "#000",
             "titleColor": "#000", "labelFont": "Liberation Sans", "titleFont": "Liberation Sans",
             "labelFontSize": 16, "titleFontSize": 16, "titleFontWeight": "normal",
             "labelFlush": false, "labelOverlap": false},
    "legend": {"orient": "none", "legendX": 480, "legendY": 10, "symbolType": "stroke", "symbolSize": 3969,
               "labelFont": "Liberation Sans", "labelFontSize": 18, "labelColor": "#000", "padding": 6,
               "strokeColor": "#000", "fillColor": "#fff", "rowPadding": 7.5, "clipHeight": 22,
               "symbolOffset": 6, "labelOffset": 5}
  }
}
